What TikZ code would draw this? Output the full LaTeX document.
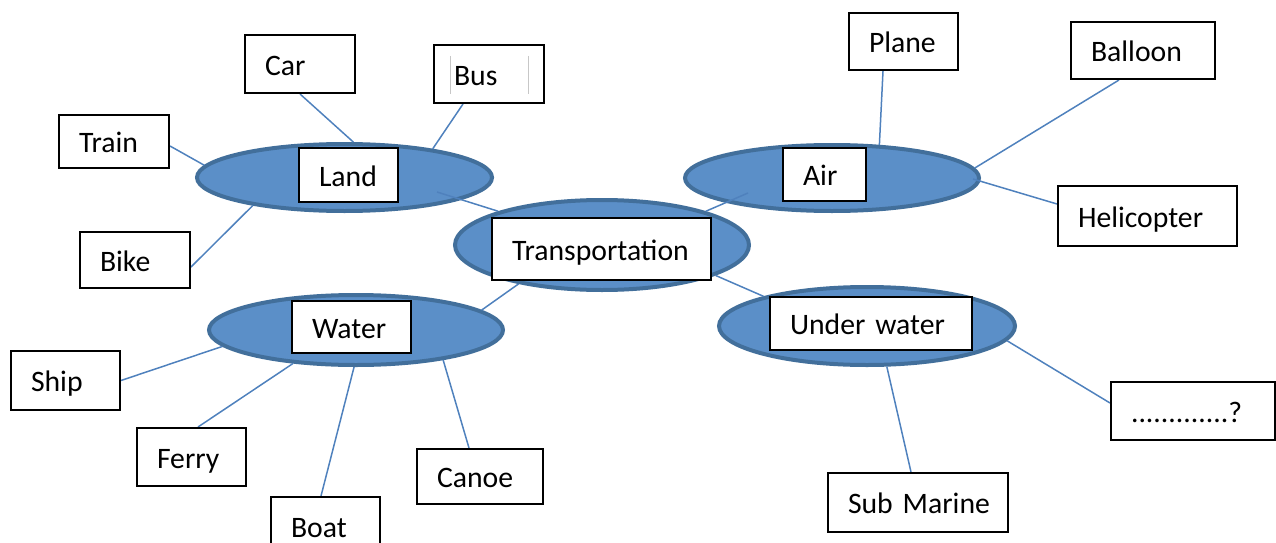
\documentclass[tikz,border=0pt]{standalone}
\usepackage{fontspec}
\setmainfont{Carlito}
\usetikzlibrary{shapes.geometric}
\definecolor{blobfill}{RGB}{91,143,200}
\definecolor{blobedge}{RGB}{66,111,155}
\definecolor{linkcol}{RGB}{79,129,189}
\pgfdeclarelayer{blobs}
\pgfdeclarelayer{links}
\pgfsetlayers{blobs,links,main}
\tikzset{
  blob/.style={ellipse, draw=blobedge, fill=blobfill, line width=4pt, inner sep=0pt},
  box/.style={draw=black, fill=white, line width=2pt, inner xsep=20pt, inner ysep=0pt,
              align=left, text height=22pt, text depth=0pt,
              font=\fontsize{29.7pt}{35pt}\selectfont},
  link/.style={draw=linkcol, line width=1.5pt},
}
\begin{document}
\begin{tikzpicture}[x=1pt, y=-1pt]
\useasboundingbox (0,0) rectangle (1276,543);
\clip (0,0) rectangle (1276,543);

% category ellipses, at the back
\begin{pgfonlayer}{blobs}
\node[blob, minimum width=295pt, minimum height=67pt] (landE)  at (344.5,177.5) {};
\node[blob, minimum width=294pt, minimum height=66pt] (airE)   at (832,178) {};
\node[blob, minimum width=294pt, minimum height=90pt] (transE) at (602,245) {};
\node[blob, minimum width=294pt, minimum height=70pt] (waterE) at (356,330) {};
\node[blob, minimum width=296pt, minimum height=78pt] (underE) at (867,326) {};
\end{pgfonlayer}

% category labels
\node[box, text width=59pt,  minimum height=54pt] (land)  at (348.5,175)   {Land};
\node[box, text width=43pt,  minimum height=53pt] (air)   at (824.5,174.5) {Air};
\node[box, text width=179pt, minimum height=62pt] (trans) at (601.5,249)   {Transportation};
\node[box, text width=79pt,  minimum height=52pt] (water) at (351.5,327)   {Water};
\node[box, text width=162pt, minimum height=53pt] (under) at (871,323.5)   {\mbox{Under water}};

% the examples
\node[box, text width=70pt,  minimum height=58pt] (car)     at (300,64)     {Car};
\node[box, text width=70pt,  minimum height=58pt] (bus)     at (489,74)     {Bus};
\node[box, text width=70pt,  minimum height=53pt] (train)   at (114,141.5)  {Train};
\node[box, text width=70pt,  minimum height=56pt] (bike)    at (135,260)    {Bike};
\node[box, text width=69pt,  minimum height=57pt] (plane)   at (903.5,41.5) {Plane};
\node[box, text width=104pt, minimum height=57pt] (balloon) at (1143,50.5)  {Balloon};
\node[box, text width=139pt, minimum height=60pt] (heli)    at (1147.5,216) {Helicopter};
\node[box, text width=69pt,  minimum height=59pt] (ship)    at (65.5,380.5) {Ship};
\node[box, text width=69pt,  minimum height=58pt] (ferry)   at (191.5,457)  {Ferry};
\node[box, text width=69pt,  minimum height=58pt] (boat)    at (325.5,526)  {Boat};
\node[box, text width=86pt,  minimum height=55pt] (canoe)   at (480,476.5)  {Canoe};
\node[box, text width=140pt, minimum height=59pt] (sub)     at (918,502.5)  {\mbox{Sub Marine}};
\node[box, text width=124pt, minimum height=58pt] (ask)     at (1193,411)   {.............?};

% faint marks inside the Bus box
\draw[black!22, line width=1pt] ([shift={(17,12)}]bus.north west) -- ([shift={(17,-10)}]bus.south west);
\draw[black!22, line width=1pt] ([shift={(-17,12)}]bus.north east) -- ([shift={(-17,-10)}]bus.south east);

% inner ends of the links that start inside an ellipse
\coordinate (landIn) at (437,192);
\coordinate (airIn)  at (748,193);
\coordinate (airTip) at (973,179);

% links, between the ellipses and the boxes
\begin{pgfonlayer}{links}
\draw[link] (car.south) -- (landE.76);
\draw[link] ([xshift=-26pt]bus.south) -- (landE.18);
\draw[link] ([yshift=-4.5pt]train.east) -- (landE.175);
\draw[link] ([yshift=-7pt]bike.east) -- (landE.197);
\draw[link] (landIn) -- (transE.162);
\draw[link] ([xshift=-20.5pt]plane.south) -- (airE.35);
\draw[link] ([xshift=-24pt]balloon.south) -- (airE.4);
\draw[link] ([yshift=12pt]heli.west) -- (airTip);
\draw[link] (airIn) -- (transE.18);
\draw[link] (transE.205) -- (waterE.9);
\draw[link] (transE.345) -- (underE.164);
\draw[link] (ship.east) -- (waterE.187);
\draw[link] ([xshift=6.5pt]ferry.north) -- (waterE.208);
\draw[link] ([xshift=-4.5pt]boat.north) -- (waterE.267);
\draw[link] ([xshift=-11pt]canoe.north) -- (waterE.341);
\draw[link] ([xshift=-7pt]sub.north) -- (underE.296);
\draw[link] ([yshift=8pt]ask.west) -- (underE.354);
\end{pgfonlayer}
\end{tikzpicture}
\end{document}
